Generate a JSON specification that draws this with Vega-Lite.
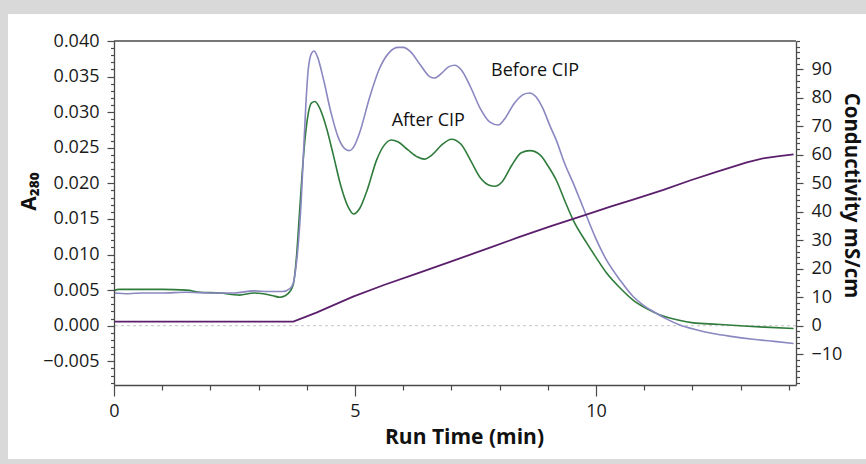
{
  "$schema": "https://vega.github.io/schema/vega-lite/v6.json",
  "width": 682,
  "height": 344,
  "autosize": {"type": "none"},
  "padding": {"left": 114, "top": 41, "right": 70, "bottom": 79},
  "background": "#d9d9d9",
  "config": {
    "view": {"stroke": null},
    "font": "Open Sans",
    "axis": {
      "zindex": 1,
      "grid": false,
      "domainColor": "#4a4a4a",
      "domainWidth": 1.3,
      "tickColor": "#4a4a4a",
      "tickWidth": 1.2,
      "labelColor": "#1a1a1a",
      "titleColor": "#111111",
      "labelFont": "Open Sans",
      "titleFont": "Open Sans",
      "labelFontSize": 18,
      "titleFontSize": 21,
      "titleFontWeight": "bold",
      "labelOverlap": false,
      "labelFlush": false
    }
  },
  "datasets": {
    "absorb": [
      {"t": 0.0, "A": 0.0049, "run": "After CIP"},
      {"t": 0.1, "A": 0.0051, "run": "After CIP"},
      {"t": 0.5, "A": 0.0051, "run": "After CIP"},
      {"t": 1.0, "A": 0.0051, "run": "After CIP"},
      {"t": 1.5, "A": 0.0050, "run": "After CIP"},
      {"t": 1.8, "A": 0.0047, "run": "After CIP"},
      {"t": 2.2, "A": 0.0046, "run": "After CIP"},
      {"t": 2.6, "A": 0.0043, "run": "After CIP"},
      {"t": 2.9, "A": 0.0046, "run": "After CIP"},
      {"t": 3.1, "A": 0.0045, "run": "After CIP"},
      {"t": 3.3, "A": 0.0042, "run": "After CIP"},
      {"t": 3.44, "A": 0.0040, "run": "After CIP"},
      {"t": 3.55, "A": 0.0042, "run": "After CIP"},
      {"t": 3.65, "A": 0.0048, "run": "After CIP"},
      {"t": 3.72, "A": 0.0058, "run": "After CIP"},
      {"t": 3.79, "A": 0.0100, "run": "After CIP"},
      {"t": 3.85, "A": 0.0160, "run": "After CIP"},
      {"t": 3.90, "A": 0.0210, "run": "After CIP"},
      {"t": 3.96, "A": 0.0260, "run": "After CIP"},
      {"t": 4.03, "A": 0.0298, "run": "After CIP"},
      {"t": 4.10, "A": 0.0313, "run": "After CIP"},
      {"t": 4.17, "A": 0.0315, "run": "After CIP"},
      {"t": 4.25, "A": 0.0308, "run": "After CIP"},
      {"t": 4.40, "A": 0.0280, "run": "After CIP"},
      {"t": 4.55, "A": 0.0240, "run": "After CIP"},
      {"t": 4.70, "A": 0.0198, "run": "After CIP"},
      {"t": 4.85, "A": 0.0168, "run": "After CIP"},
      {"t": 4.97, "A": 0.0157, "run": "After CIP"},
      {"t": 5.10, "A": 0.0165, "run": "After CIP"},
      {"t": 5.25, "A": 0.0190, "run": "After CIP"},
      {"t": 5.45, "A": 0.0233, "run": "After CIP"},
      {"t": 5.60, "A": 0.0253, "run": "After CIP"},
      {"t": 5.75, "A": 0.0261, "run": "After CIP"},
      {"t": 5.90, "A": 0.0258, "run": "After CIP"},
      {"t": 6.10, "A": 0.0247, "run": "After CIP"},
      {"t": 6.30, "A": 0.0237, "run": "After CIP"},
      {"t": 6.44, "A": 0.0234, "run": "After CIP"},
      {"t": 6.60, "A": 0.0240, "run": "After CIP"},
      {"t": 6.80, "A": 0.0254, "run": "After CIP"},
      {"t": 7.00, "A": 0.0262, "run": "After CIP"},
      {"t": 7.20, "A": 0.0255, "run": "After CIP"},
      {"t": 7.40, "A": 0.0232, "run": "After CIP"},
      {"t": 7.60, "A": 0.0208, "run": "After CIP"},
      {"t": 7.80, "A": 0.0197, "run": "After CIP"},
      {"t": 7.90, "A": 0.0196, "run": "After CIP"},
      {"t": 8.05, "A": 0.0202, "run": "After CIP"},
      {"t": 8.25, "A": 0.0225, "run": "After CIP"},
      {"t": 8.45, "A": 0.0243, "run": "After CIP"},
      {"t": 8.63, "A": 0.0246, "run": "After CIP"},
      {"t": 8.84, "A": 0.0240, "run": "After CIP"},
      {"t": 9.00, "A": 0.0225, "run": "After CIP"},
      {"t": 9.18, "A": 0.0204, "run": "After CIP"},
      {"t": 9.35, "A": 0.0176, "run": "After CIP"},
      {"t": 9.53, "A": 0.0148, "run": "After CIP"},
      {"t": 9.81, "A": 0.0116, "run": "After CIP"},
      {"t": 10.0, "A": 0.0096, "run": "After CIP"},
      {"t": 10.22, "A": 0.0074, "run": "After CIP"},
      {"t": 10.5, "A": 0.0053, "run": "After CIP"},
      {"t": 10.77, "A": 0.0036, "run": "After CIP"},
      {"t": 11.05, "A": 0.0024, "run": "After CIP"},
      {"t": 11.33, "A": 0.0015, "run": "After CIP"},
      {"t": 11.7, "A": 0.0008, "run": "After CIP"},
      {"t": 12.02, "A": 0.0004, "run": "After CIP"},
      {"t": 12.5, "A": 0.0002, "run": "After CIP"},
      {"t": 12.99, "A": 0.0000, "run": "After CIP"},
      {"t": 13.5, "A": -0.0002, "run": "After CIP"},
      {"t": 14.1, "A": -0.0004, "run": "After CIP"},

      {"t": 0.0, "A": 0.0046, "run": "Before CIP"},
      {"t": 0.3, "A": 0.0045, "run": "Before CIP"},
      {"t": 0.6, "A": 0.0046, "run": "Before CIP"},
      {"t": 1.0, "A": 0.0046, "run": "Before CIP"},
      {"t": 1.5, "A": 0.0047, "run": "Before CIP"},
      {"t": 2.0, "A": 0.0046, "run": "Before CIP"},
      {"t": 2.5, "A": 0.0046, "run": "Before CIP"},
      {"t": 2.9, "A": 0.0049, "run": "Before CIP"},
      {"t": 3.2, "A": 0.0048, "run": "Before CIP"},
      {"t": 3.5, "A": 0.0048, "run": "Before CIP"},
      {"t": 3.65, "A": 0.0052, "run": "Before CIP"},
      {"t": 3.72, "A": 0.0060, "run": "Before CIP"},
      {"t": 3.78, "A": 0.0085, "run": "Before CIP"},
      {"t": 3.83, "A": 0.0120, "run": "Before CIP"},
      {"t": 3.88, "A": 0.0170, "run": "Before CIP"},
      {"t": 3.93, "A": 0.0240, "run": "Before CIP"},
      {"t": 3.98, "A": 0.0310, "run": "Before CIP"},
      {"t": 4.03, "A": 0.0360, "run": "Before CIP"},
      {"t": 4.10, "A": 0.0383, "run": "Before CIP"},
      {"t": 4.15, "A": 0.0386, "run": "Before CIP"},
      {"t": 4.22, "A": 0.0378, "run": "Before CIP"},
      {"t": 4.35, "A": 0.0345, "run": "Before CIP"},
      {"t": 4.50, "A": 0.0300, "run": "Before CIP"},
      {"t": 4.65, "A": 0.0265, "run": "Before CIP"},
      {"t": 4.80, "A": 0.0248, "run": "Before CIP"},
      {"t": 4.88, "A": 0.0246, "run": "Before CIP"},
      {"t": 4.98, "A": 0.0252, "run": "Before CIP"},
      {"t": 5.10, "A": 0.0272, "run": "Before CIP"},
      {"t": 5.30, "A": 0.0320, "run": "Before CIP"},
      {"t": 5.50, "A": 0.0360, "run": "Before CIP"},
      {"t": 5.70, "A": 0.0383, "run": "Before CIP"},
      {"t": 5.90, "A": 0.0391, "run": "Before CIP"},
      {"t": 6.00, "A": 0.0391, "run": "Before CIP"},
      {"t": 6.15, "A": 0.0385, "run": "Before CIP"},
      {"t": 6.35, "A": 0.0367, "run": "Before CIP"},
      {"t": 6.55, "A": 0.0350, "run": "Before CIP"},
      {"t": 6.65, "A": 0.0348, "run": "Before CIP"},
      {"t": 6.80, "A": 0.0355, "run": "Before CIP"},
      {"t": 6.95, "A": 0.0364, "run": "Before CIP"},
      {"t": 7.07, "A": 0.0366, "run": "Before CIP"},
      {"t": 7.20, "A": 0.0360, "run": "Before CIP"},
      {"t": 7.40, "A": 0.0335, "run": "Before CIP"},
      {"t": 7.60, "A": 0.0305, "run": "Before CIP"},
      {"t": 7.80, "A": 0.0286, "run": "Before CIP"},
      {"t": 7.97, "A": 0.0282, "run": "Before CIP"},
      {"t": 8.10, "A": 0.0290, "run": "Before CIP"},
      {"t": 8.30, "A": 0.0312, "run": "Before CIP"},
      {"t": 8.50, "A": 0.0325, "run": "Before CIP"},
      {"t": 8.62, "A": 0.0327, "run": "Before CIP"},
      {"t": 8.75, "A": 0.0322, "run": "Before CIP"},
      {"t": 8.90, "A": 0.0305, "run": "Before CIP"},
      {"t": 9.05, "A": 0.0280, "run": "Before CIP"},
      {"t": 9.18, "A": 0.0260, "run": "Before CIP"},
      {"t": 9.35, "A": 0.0228, "run": "Before CIP"},
      {"t": 9.53, "A": 0.0200, "run": "Before CIP"},
      {"t": 9.68, "A": 0.0175, "run": "Before CIP"},
      {"t": 9.81, "A": 0.0153, "run": "Before CIP"},
      {"t": 10.0, "A": 0.0122, "run": "Before CIP"},
      {"t": 10.22, "A": 0.0092, "run": "Before CIP"},
      {"t": 10.5, "A": 0.0064, "run": "Before CIP"},
      {"t": 10.77, "A": 0.0041, "run": "Before CIP"},
      {"t": 11.0, "A": 0.0028, "run": "Before CIP"},
      {"t": 11.19, "A": 0.0020, "run": "Before CIP"},
      {"t": 11.45, "A": 0.0010, "run": "Before CIP"},
      {"t": 11.74, "A": 0.0001, "run": "Before CIP"},
      {"t": 12.1, "A": -0.0006, "run": "Before CIP"},
      {"t": 12.43, "A": -0.0011, "run": "Before CIP"},
      {"t": 12.8, "A": -0.0015, "run": "Before CIP"},
      {"t": 13.26, "A": -0.0019, "run": "Before CIP"},
      {"t": 13.7, "A": -0.0022, "run": "Before CIP"},
      {"t": 14.1, "A": -0.0025, "run": "Before CIP"}
    ],
    "cond": [
      {"t": 0.0, "C": 1.4},
      {"t": 3.72, "C": 1.4},
      {"t": 4.2, "C": 4.6},
      {"t": 4.96, "C": 10.2},
      {"t": 5.6, "C": 14.3},
      {"t": 6.28, "C": 18.3},
      {"t": 7.0, "C": 22.6},
      {"t": 7.8, "C": 27.4},
      {"t": 8.4, "C": 31.1},
      {"t": 9.05, "C": 34.9},
      {"t": 9.8, "C": 39.0},
      {"t": 10.3, "C": 41.8},
      {"t": 10.77, "C": 44.3},
      {"t": 11.4, "C": 47.7},
      {"t": 11.95, "C": 51.0},
      {"t": 12.5, "C": 54.0},
      {"t": 13.13, "C": 57.4},
      {"t": 13.5, "C": 58.9},
      {"t": 13.8, "C": 59.6},
      {"t": 14.1, "C": 60.2}
    ],
    "labels": [
      {"t": 8.735, "A": 0.0358, "label": "Before CIP"},
      {"t": 6.52, "A": 0.0288, "label": "After CIP"}
    ]
  },
  "layer": [
    {
      "resolve": {"axis": {"y": "independent"}},
      "layer": [
        {
          "data": {"values": [{}]},
          "mark": {"type": "rect", "fill": "white"},
          "encoding": {
            "x": {
              "datum": -2.2,
              "type": "quantitative",
              "scale": {"domain": [0, 14.15], "nice": false, "zero": false},
              "axis": {
                "zindex": 2,
                "title": "Run Time (min)",
                "values": [0, 1, 2, 3, 4, 5, 6, 7, 8, 9, 10, 11, 12, 13, 14],
                "labelExpr": "datum.value % 5 === 0 ? format(datum.value, 'd') : ''",
                "tickSize": {"condition": {"test": "datum.value % 5 === 0", "value": 11}, "value": 5},
                "labelPadding": 6,
                "labelOverlap": false,
                "labelFlush": false,
                "titleX": 350,
                "titleY": 58,
                "titleBaseline": "alphabetic",
                "titleAnchor": null
              }
            },
            "x2": {"datum": 15.9},
            "y": {
              "datum": 0.04379,
              "type": "quantitative",
              "scale": {"domain": [-0.00833, 0.04], "nice": false, "zero": false},
              "axis": {
                "zindex": 2,
                "title": "A₂₈₀",
                "orient": "left",
                "values": [-0.005, 0, 0.005, 0.01, 0.015, 0.02, 0.025, 0.03, 0.035, 0.04],
                "format": ".3f",
                "tickSize": 7,
                "labelPadding": 8,
                "labelOverlap": false,
                "titleAngle": -90,
                "titleX": -79,
                "titleY": 150,
                "titleAlign": "center",
                "titleBaseline": "alphabetic"
              }
            },
            "y2": {"datum": -0.01873}
          }
        },
        {
          "data": {"values": [{}]},
          "mark": {"type": "rule", "stroke": "#4a4a4a", "strokeWidth": 1.3},
          "encoding": {
            "y": {
              "datum": 0.04,
              "type": "quantitative",
              "axis": {
                "zindex": 2,
                "orient": "left",
                "title": null,
                "labels": false,
                "domain": false,
                "tickSize": 3.5,
                "values": [-0.008, -0.007, -0.006, -0.004, -0.003, -0.002, -0.001, 0.001, 0.002, 0.003, 0.004, 0.006, 0.007, 0.008, 0.009, 0.011, 0.012, 0.013, 0.014, 0.016, 0.017, 0.018, 0.019, 0.021, 0.022, 0.023, 0.024, 0.026, 0.027, 0.028, 0.029, 0.031, 0.032, 0.033, 0.034, 0.036, 0.037, 0.038, 0.039]
              }
            }
          }
        },
        {
          "data": {"values": [{}]},
          "mark": {"type": "rule", "stroke": "#c4c4c4", "strokeWidth": 1, "strokeDash": [3, 3]},
          "encoding": {"y": {"datum": 0, "type": "quantitative", "axis": null}}
        },
        {
          "data": {"name": "absorb"},
          "mark": {"type": "line", "strokeWidth": 1.6, "interpolate": "monotone"},
          "encoding": {
            "x": {"field": "t", "type": "quantitative"},
            "y": {"field": "A", "type": "quantitative", "axis": null},
            "color": {
              "field": "run",
              "type": "nominal",
              "scale": {"domain": ["After CIP", "Before CIP"], "range": ["#2e7b3b", "#8a87c1"]},
              "legend": null
            }
          }
        },
        {
          "data": {"name": "labels"},
          "mark": {"type": "text", "font": "Open Sans", "fontSize": 18, "fill": "#111111", "align": "center", "baseline": "middle"},
          "encoding": {
            "x": {"field": "t", "type": "quantitative"},
            "y": {"field": "A", "type": "quantitative", "axis": null},
            "text": {"field": "label"}
          }
        }
      ]
    },
    {
      "data": {"name": "cond"},
      "mark": {"type": "line", "stroke": "#5b1f6c", "strokeWidth": 1.8},
      "encoding": {
        "x": {"field": "t", "type": "quantitative"},
        "y": {
          "field": "C",
          "type": "quantitative",
          "scale": {"domain": [-20.83, 100], "nice": false, "zero": false},
          "axis": {
            "zindex": 2,
            "title": "Conductivity mS/cm",
            "orient": "right",
            "values": [-20, -18, -16, -14, -12, -10, -8, -6, -4, -2, 0, 2, 4, 6, 8, 10, 12, 14, 16, 18, 20, 22, 24, 26, 28, 30, 32, 34, 36, 38, 40, 42, 44, 46, 48, 50, 52, 54, 56, 58, 60, 62, 64, 66, 68, 70, 72, 74, 76, 78, 80, 82, 84, 86, 88, 90, 92, 94, 96, 98, 100],
            "labelExpr": "datum.value % 10 === 0 && datum.value >= -10 && datum.value <= 90 ? format(datum.value, 'd') : ''",
            "tickSize": {"condition": {"test": "datum.value % 10 === 0 && datum.value >= -10 && datum.value <= 90", "value": 7}, "value": 3.5},
            "labelPadding": 8,
            "labelOverlap": false,
            "titleAngle": 90,
            "titleX": 54,
            "titleY": 154,
            "titleFontSize": 20.5,
            "titleAlign": "center",
            "titleBaseline": "middle"
          }
        }
      }
    }
  ],
  "resolve": {"scale": {"y": "independent"}}
}
